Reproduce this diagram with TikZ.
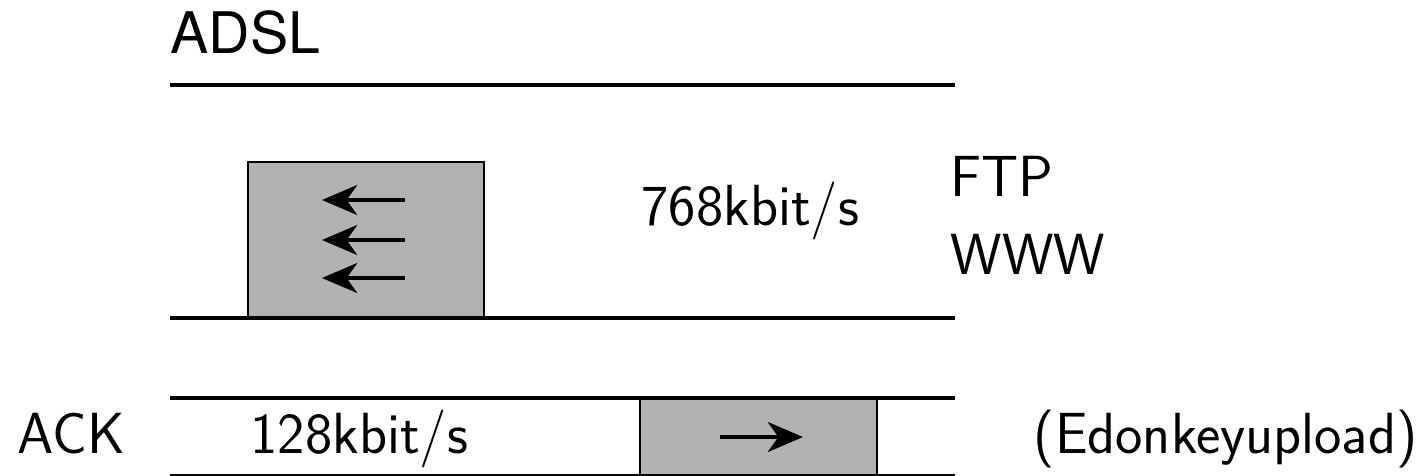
\documentclass[tikz,border=0pt]{standalone}
\usepackage{fontspec}
\usetikzlibrary{arrows.meta}
\newfontfamily\heros{TeX Gyre Heros}

\begin{document}
\begin{tikzpicture}[x=0.01cm,y=-0.01cm, font=\sffamily\fontsize{16.5}{20}\selectfont,
  band/.style={line width=1.2pt},
  slot/.style={draw,fill=black!30,line width=0.8pt},
  lbl/.style={anchor=base west,inner sep=0pt},
  >={Stealth[length=10pt,width=8.5pt,inset=3pt]}]
\useasboundingbox (0,0) rectangle (1421,475);
% downstream channel
\node[lbl,font=\heros\fontsize{16.3}{20}\selectfont] (adsl) at (170,53) {ADSL};
\draw[slot] (248,318) rectangle (484,162);
\draw[band] (170,85) -- (955,85);
\draw[band] (170,318) -- (955,318);
\foreach \y [count=\i] in {200,240,278} {
  \coordinate (d\i a) at (405,\y); \coordinate (d\i b) at (322,\y);
  \draw[->,line width=1.2pt] (d\i a) -- (d\i b);
}
\node[lbl] (down) at (641,225) {768kbit/s};
\node[lbl] (ftp) at (950,196) {FTP};
\node[lbl] (www) at (950,274) {WWW};
% upstream channel
\draw[slot] (640,398) rectangle (877,480);
\draw[band] (170,398) -- (955,398);
\draw[band] (170,476) -- (955,476);
\coordinate (ua) at (720,437); \coordinate (ub) at (803,437);
\draw[->,line width=1.2pt] (ua) -- (ub);
\node[lbl] (ack) at (17,453) {ACK};
\node[lbl] (up) at (250,453) {128kbit/s};
\node[lbl,anchor=base east] (edk) at (1418,453) {(Edonkeyupload)};
\end{tikzpicture}
\end{document}
